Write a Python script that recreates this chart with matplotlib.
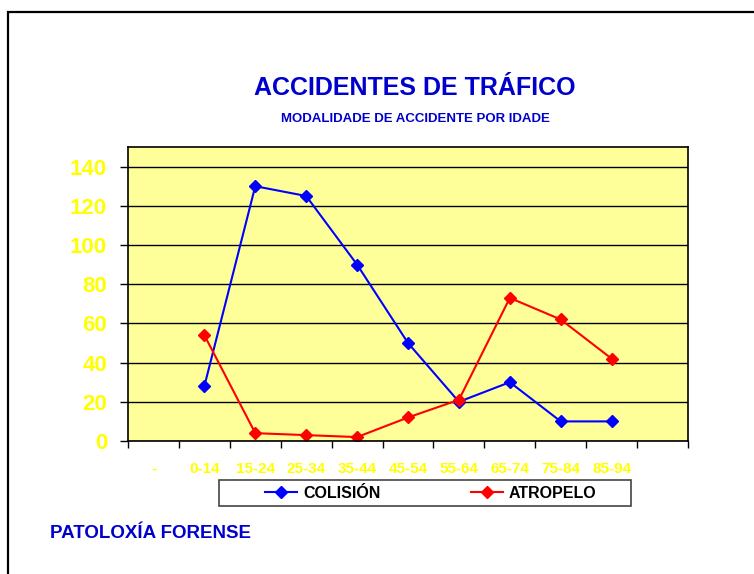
import matplotlib.pyplot as plt
import numpy as np
from matplotlib.patches import Rectangle

plt.rcParams['font.family'] = ['Liberation Sans', 'DejaVu Sans']

# datos
categorias = ["-", "0-14", "15-24", "25-34", "35-44", "45-54", "55-64", "65-74", "75-84", "85-94", ""]
colision = [np.nan, 28, 130, 125, 90, 50, 20, 30, 10, 10, np.nan]
atropelo = [np.nan, 54, 4, 3, 2, 12, 21, 73, 62, 42, np.nan]
yticks = [0, 20, 40, 60, 80, 100, 120, 140]

W, H = 754, 574
fig = plt.figure(figsize=(W / 100, H / 100), dpi=100)

# marco exterior
fig.patches.append(Rectangle((8 / W, -0.1), 1.2, 1 - 12 / H + 0.1, transform=fig.transFigure,
                             fill=False, edgecolor='black', linewidth=1.6))

ax = fig.add_axes([128 / W, 1 - 441 / H, (688 - 128) / W, (441 - 147) / H])
ax.set_facecolor('#FFFF99')

x = np.arange(len(categorias))
ax.plot(x, colision, color='#0000FF', lw=1.5, marker='D', ms=6, label='COLISIÓN')
ax.plot(x, atropelo, color='#FF0000', lw=1.5, marker='D', ms=6, label='ATROPELO')

ax.set_xlim(-0.5, len(categorias) - 0.5)
ax.set_ylim(0, 150)
ax.set_yticks(yticks)
ax.set_yticklabels([str(v) for v in yticks], color='#FFFF00', fontsize=16, fontweight='bold')
ax.yaxis.grid(True, color='black', lw=1)
ax.set_axisbelow(True)

ax.set_xticks(x)
ax.set_xticklabels(categorias, color='#FFFF00', fontsize=11, fontweight='bold')
ax.set_xticks(np.arange(-0.5, len(categorias), 1), minor=True)
ax.tick_params(axis='x', which='major', length=0, pad=15)
ax.tick_params(axis='x', which='minor', length=5, width=1, direction='out')
ax.tick_params(axis='y', length=6, width=1, direction='out', pad=9)
for s in ax.spines.values():
    s.set_linewidth(1.2)
    s.set_color('black')

# titulos
fig.text(415 / W, 1 - 88 / H, 'ACCIDENTES DE TRÁFICO', ha='center', va='center',
         color='#0000CC', fontsize=18, fontweight='bold')
fig.text(415 / W, 1 - 119 / H, 'MODALIDADE DE ACCIDENTE POR IDADE', ha='center', va='center',
         color='#0000CC', fontsize=9.5, fontweight='bold')
fig.text(50 / W, 1 - 533 / H, 'PATOLOXÍA FORENSE', ha='left', va='center',
         color='#0000CC', fontsize=13.5, fontweight='bold')

# leyenda
fig.patches.append(Rectangle((219 / W, 1 - 506 / H), 412 / W, 26 / H, transform=fig.transFigure,
                             fill=True, facecolor='white', edgecolor='#444444', linewidth=1.2))
leg = fig.legend(loc='center', bbox_to_anchor=(431 / W, 1 - 493 / H), ncol=2, frameon=False,
                 handlelength=2.0, handletextpad=0.4, columnspacing=5.6,
                 prop={'weight': 'bold', 'size': 11.5}, borderaxespad=0)

fig.savefig('out.png', dpi=100)
